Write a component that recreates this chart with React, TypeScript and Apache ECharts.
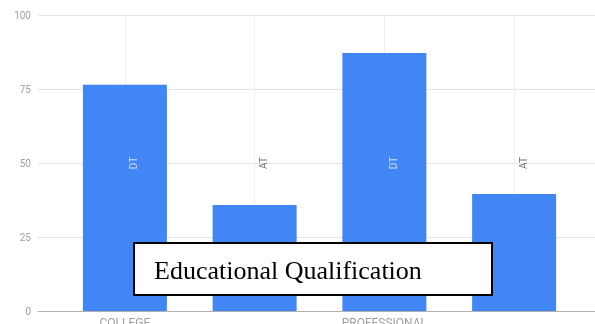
import React, { useEffect, useRef } from "react";
import * as echarts from "echarts";

// Bars: share (%) per qualification and test group
const categories = ["COLLEGE", "", "PROFESSIONAL", ""];
const barTags = ["DT", "AT", "DT", "AT"];
const values = [76.4, 35.8, 87.2, 39.5];
const yTicks = [0, 25, 50, 75, 100];
const TAG_LEVEL = 50;
const TITLE = "Educational Qualification";

const BLUE = "#4285f4";

export default function App() {
  const ref = useRef<HTMLDivElement>(null);

  useEffect(() => {
    if (!ref.current) return;
    const chart = echarts.init(ref.current, undefined, { renderer: "svg" });
    const top = 15;
    const bottom = 13;

    chart.setOption({
      animation: false,
      grid: [
        { left: 60, right: 16, top, bottom, outerBoundsMode: "none", containLabel: false },
        { left: 38, right: 0, top, bottom, outerBoundsMode: "none", containLabel: false },
      ],
      xAxis: [
        {
          type: "category",
          gridIndex: 0,
          data: categories,
          axisLine: { show: false },
          axisTick: { show: false },
          axisLabel: {
            interval: 0,
            color: "#9e9e9e",
            fontSize: 12,
            fontFamily: "Roboto",
            margin: 6,
          },
          splitLine: {
            show: true,
            alignWithLabel: true,
            lineStyle: { color: "#efefef", width: 1 },
          },
        },
        {
          type: "value",
          gridIndex: 1,
          min: 0,
          max: 1,
          axisLine: { show: true, lineStyle: { color: "#b0b0b0", width: 1 } },
          axisTick: { show: false },
          axisLabel: { show: false },
          splitLine: { show: false },
        },
      ],
      yAxis: [
        {
          type: "value",
          gridIndex: 0,
          min: yTicks[0],
          max: yTicks[yTicks.length - 1],
          interval: 25,
          axisLine: { show: false },
          axisTick: { show: false },
          axisLabel: { show: false },
          splitLine: { show: false },
        },
        {
          type: "value",
          gridIndex: 1,
          min: yTicks[0],
          max: yTicks[yTicks.length - 1],
          interval: 25,
          axisLine: { show: false },
          axisTick: { show: false },
          axisLabel: {
            color: "#9e9e9e",
            fontSize: 10,
            fontFamily: "Roboto",
            margin: 7,
          },
          splitLine: { show: true, lineStyle: { color: "#e4e4e4", width: 1 } },
        },
      ],
      series: [
        {
          type: "bar",
          xAxisIndex: 0,
          yAxisIndex: 0,
          data: values,
          barWidth: 84,
          itemStyle: { color: BLUE },
          z: 3,
        },
        {
          type: "scatter",
          xAxisIndex: 0,
          yAxisIndex: 0,
          symbolSize: 0,
          data: barTags.map((t, i) => ({
            value: [i, TAG_LEVEL],
            label: {
              color: values[i] > TAG_LEVEL ? "#f4f1dc" : "#555555",
            },
          })),
          label: {
            show: true,
            position: "inside",
            rotate: 90,
            offset: [0, 9],
            fontSize: 10,
            fontFamily: "Roboto",
            formatter: (p: any) => barTags[p.dataIndex],
          },
          z: 4,
        },
      ],
      graphic: [
        {
          type: "rect",
          z: 100,
          shape: { x: 134, y: 243, width: 358, height: 52 },
          style: { fill: "#ffffff", stroke: "#000000", lineWidth: 2 },
        },
        {
          type: "text",
          z: 101,
          x: 154,
          y: 270,
          style: {
            text: TITLE,
            fill: "#000000",
            font: "26px 'Liberation Serif', 'Times New Roman', serif",
            verticalAlign: "middle",
            align: "left",
          },
        },
      ],
    });

    return () => chart.dispose();
  }, []);

  return (
    <div
      ref={ref}
      style={{ position: "fixed", left: 0, top: 0, width: 595, height: 324 }}
    />
  );
}
